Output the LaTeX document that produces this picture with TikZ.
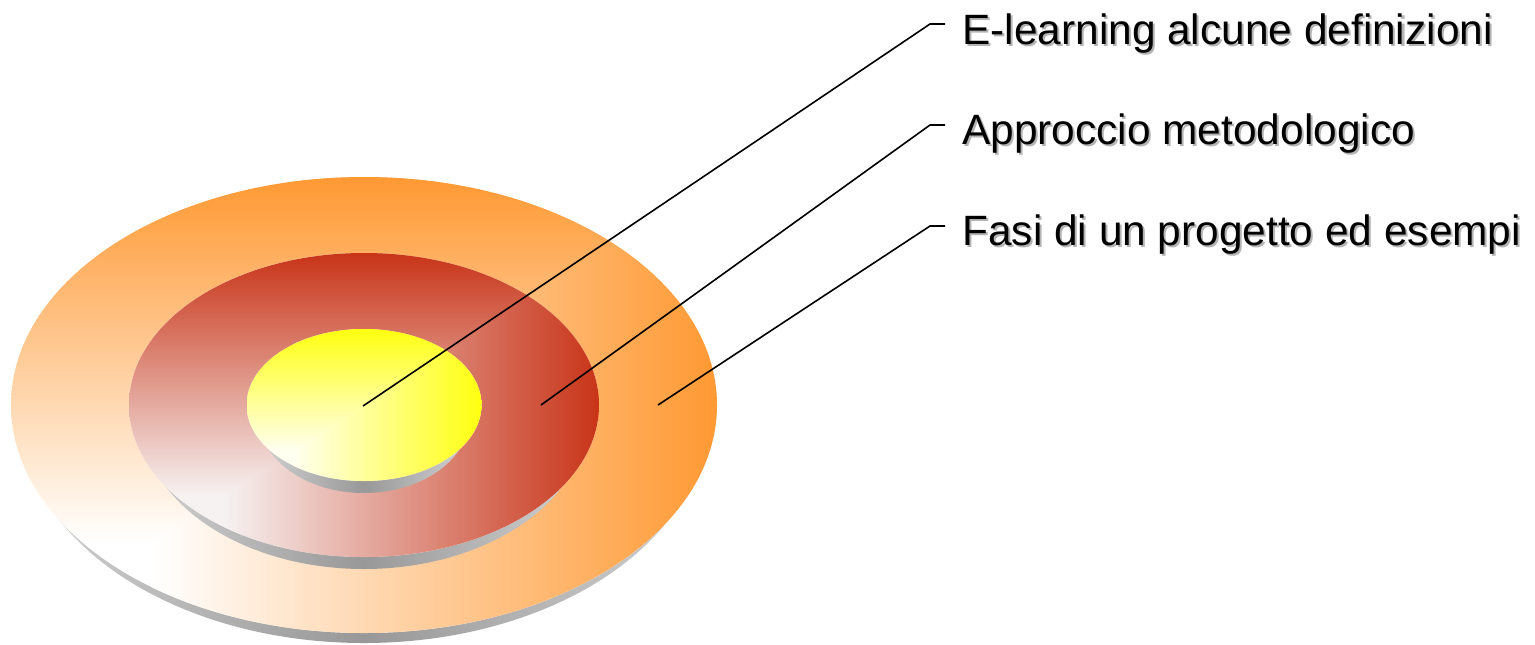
\documentclass[tikz,border=0pt]{standalone}
\usepackage{fontspec}
\setmainfont{Liberation Sans}
\definecolor{orng}{HTML}{FF9933}
\definecolor{orngw}{HTML}{FFFFFF}
\definecolor{redd}{HTML}{C83418}
\definecolor{reddw}{HTML}{F6F2F2}
\definecolor{yell}{HTML}{FFFF10}
\definecolor{yellw}{HTML}{FFFFF0}
\definecolor{sidelight}{HTML}{D2D2D2}
\definecolor{sidedark}{HTML}{989898}
\definecolor{txtshadow}{HTML}{B4B4B4}
\newcommand\diskdraw[5]{%
  \shade[left color=sidelight, right color=sidelight, middle color=sidedark]
    (364,405+#3) ellipse [x radius=#1-#3, y radius=#2];
  \begin{scope}
    \clip (364,405) ellipse [x radius=#1, y radius=#2];
    \fill[#4] (364-#1,405-#2) rectangle (364+#1,405+#2);
    \shade[left color=#4, right color=#5] (364-0.6*#1,405-#2) rectangle (364+#1,405+#2);
    \begin{scope}[blend mode=darken]
      \shade[bottom color=#4, top color=#5] (364-#1,405-#2) rectangle (364+#1,405+0.6*#2);
    \end{scope}
  \end{scope}}
\tikzset{
  lbl/.style={inner sep=0pt, anchor=base west, font=\fontsize{21.2}{25}\selectfont, text=black},
  lblshadow/.style={lbl, text=txtshadow},
  conn/.style={draw=black, line width=0.8pt}
}
\begin{document}
\begin{tikzpicture}[x=0.5pt, y=-0.5pt]
\useasboundingbox (0,0) rectangle (1535,644);
\fill[white] (0,0) rectangle (1535,644);
% disks
\diskdraw{353}{228}{10}{orngw}{orng}
\diskdraw{235}{152}{12}{reddw}{redd}
\diskdraw{117.5}{76}{12}{yellw}{yell}
% labels
\node[lblshadow] (s1) at (964,46) {E-learning alcune definizioni};
\node[lbl] (t1) at (962,44) {E-learning alcune definizioni};
\node[lblshadow] (s2) at (964,146) {Approccio metodologico};
\node[lbl] (t2) at (962,144) {Approccio metodologico};
\node[lblshadow] (s3) at (964,247) {Fasi di un progetto ed esempi};
\node[lbl] (t3) at (962,245) {Fasi di un progetto ed esempi};
% connector points
\coordinate (p1) at (363,406);
\coordinate (p2) at (541,405);
\coordinate (p3) at (658,405);
\coordinate (b1) at (930,24);
\coordinate (b2) at (930,125);
\coordinate (b3) at (930,226);
\coordinate (e1) at (945,24);
\coordinate (e2) at (945,125);
\coordinate (e3) at (945,226);
\draw[conn] (p1) -- (b1) -- (e1);
\draw[conn] (p2) -- (b2) -- (e2);
\draw[conn] (p3) -- (b3) -- (e3);
\end{tikzpicture}
\end{document}
